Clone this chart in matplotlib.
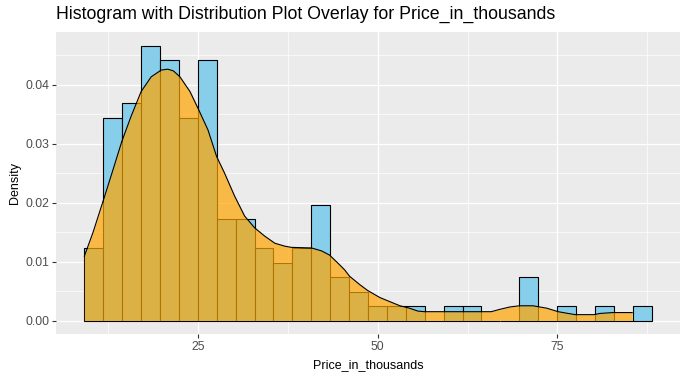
import numpy as np
import matplotlib.pyplot as plt
from matplotlib.ticker import MultipleLocator

# ==========================
# 数据
# ==========================

bin_edges = [9.21, 11.84, 14.47, 17.10, 19.73, 22.36, 24.99, 27.62, 30.25, 32.88,
             35.51, 38.14, 40.77, 43.40, 46.03, 48.66, 51.29, 53.92, 56.55, 59.18,
             61.81, 64.44, 67.07, 69.70, 72.33, 74.96, 77.59, 80.22, 82.85, 85.48, 88.11]

hist_density = [0.0123, 0.0343, 0.0368, 0.0466, 0.0442, 0.0343, 0.0442, 0.0172, 0.0172, 0.0123,
                0.0098, 0.0123, 0.0196, 0.0074, 0.0049, 0.0025, 0.0025, 0.0025, 0.0, 0.0025,
                0.0025, 0.0, 0.0, 0.0074, 0.0, 0.0025, 0.0, 0.0025, 0.0, 0.0025]

kde_x = [9.2, 10.4, 11.8, 13.2, 14.4, 15.7, 17.1, 18.5, 19.9, 20.8,
         21.6, 22.5, 23.9, 25.0, 26.4, 27.6, 28.7, 30.1, 31.5, 32.9,
         34.3, 35.7, 37.1, 38.0, 40.8, 42.2, 43.3, 44.5, 45.4, 46.1,
         47.5, 48.6, 50.3, 51.7, 53.1, 54.4, 55.6, 56.5, 65.8, 67.0,
         68.4, 69.7, 71.6, 73.5, 75.1, 76.5, 77.5, 80.1, 80.9, 82.7, 85.4]
kde_y = [0.0109, 0.0149, 0.0202, 0.0256, 0.0303, 0.0346, 0.0388, 0.0413, 0.04245, 0.0426,
         0.0423, 0.0413, 0.0388, 0.0360, 0.0323, 0.0278, 0.0250, 0.0211, 0.0177, 0.0157,
         0.0143, 0.0131, 0.0126, 0.0124, 0.0123, 0.0118, 0.0111, 0.0097, 0.0086, 0.0075,
         0.0061, 0.0051, 0.0039, 0.0032, 0.0025, 0.0021, 0.0016, 0.0015, 0.0015, 0.0019,
         0.0023, 0.0025, 0.0025, 0.0021, 0.0015, 0.0012, 0.0010, 0.0010, 0.0012, 0.00135, 0.00135]

# ==========================
# 绘图
# ==========================

plt.rcParams["font.family"] = ["Liberation Sans", "DejaVu Sans"]

fig = plt.figure(figsize=(6.87, 3.80), dpi=100)
ax = fig.add_axes([0.0815, 0.1203, 0.9083, 0.7955])
ax.set_facecolor("#EBEBEB")

widths = np.diff(bin_edges)
ax.bar(bin_edges[:-1], hist_density, width=widths, align="edge",
       color="#87CEEB", edgecolor="black", linewidth=0.8, zorder=2)

ax.fill_between(kde_x, kde_y, 0, color="#FFA500", alpha=0.7, linewidth=0, zorder=3)
ax.plot(kde_x, kde_y, color="black", linewidth=0.8, zorder=4)

ax.set_xlim(5.26, 92.05)
ax.set_ylim(-0.00233, 0.0489)

ax.xaxis.set_minor_locator(MultipleLocator(12.5))
ax.yaxis.set_minor_locator(MultipleLocator(0.005))
ax.set_xticks([25, 50, 75])
ax.set_yticks([0.0, 0.01, 0.02, 0.03, 0.04])
ax.set_yticklabels(["0.00", "0.01", "0.02", "0.03", "0.04"])

ax.grid(which="major", color="white", linewidth=0.9, zorder=0)
ax.grid(which="minor", color="white", linewidth=0.5, zorder=0)
ax.set_axisbelow(True)

for s in ax.spines.values():
    s.set_visible(False)

ax.tick_params(which="major", length=3, width=0.8, color="#333333",
               labelcolor="#4D4D4D", labelsize=8.8, pad=2)
ax.tick_params(which="minor", length=0)

ax.set_xlabel("Price_in_thousands", fontsize=9, color="black", labelpad=4)
ax.set_ylabel("Density", fontsize=9, color="black", labelpad=3)

fig.text(0.0815, 0.962, "Histogram with Distribution Plot Overlay for Price_in_thousands",
         fontsize=12.8, color="black", ha="left", va="center")

plt.savefig("out.png", dpi=100)
